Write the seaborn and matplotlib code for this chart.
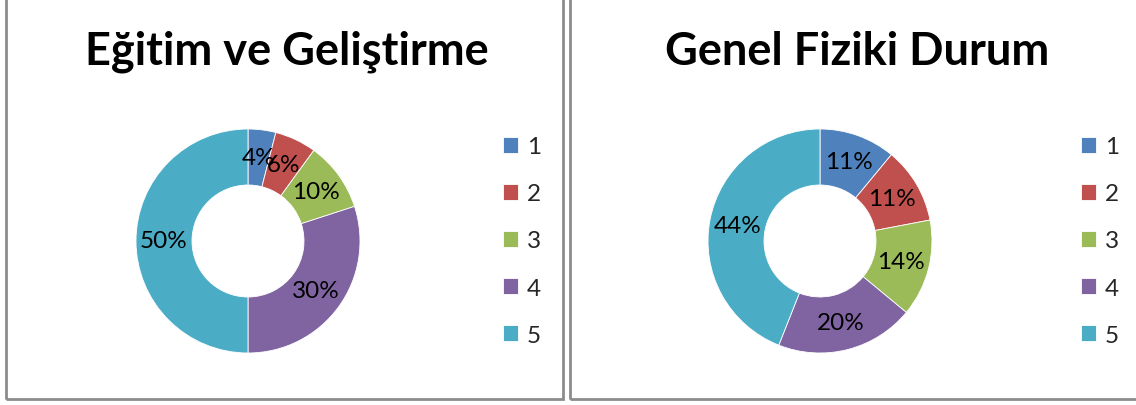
import seaborn as sns
import matplotlib.pyplot as plt
from matplotlib.patches import Rectangle

# data
categories = ['1', '2', '3', '4', '5']
egitim_values = [4, 6, 10, 30, 50]
fiziki_values = [11, 11, 14, 20, 44]
titles = ['Eğitim ve Geliştirme', 'Genel Fiziki Durum']

sns.set_theme(style="white")
plt.rcParams['font.family'] = ['Lato', 'DejaVu Sans']
colors = ['#4F81BD', '#C0504D', '#9BBB59', '#8064A2', '#4BACC6']

W, H = 1136, 406
fig = plt.figure(figsize=(W / 100, H / 100), dpi=100)

# panel borders
for x0, x1 in [(6, 563), (570, 1140)]:
    fig.patches.append(Rectangle((x0 / W, 6 / H), (x1 - x0) / W, 1.2,
                                 transform=fig.transFigure, fill=False,
                                 edgecolor='#8c8c8c', linewidth=2))

panels = [(248, 287, 503, egitim_values), (820, 857, 1081, fiziki_values)]
r = 112
for (cx, tx, lx, vals), title in zip(panels, titles):
    ax = fig.add_axes([(cx - r) / W, (H - 242 - r) / H, 2 * r / W, 2 * r / H])
    wedges, _, autotexts = ax.pie(vals, colors=colors, startangle=90, counterclock=False,
                                  autopct='%1.0f%%', pctdistance=0.75,
                                  wedgeprops=dict(width=0.5, edgecolor='white', linewidth=0.6),
                                  textprops=dict(fontsize=17.5, color='black'))
    ax.set_xlim(-1, 1)
    ax.set_ylim(-1, 1)
    fig.text(tx / W, 1 - 52 / H, title, ha='center', va='center',
             fontsize=32.5, fontweight='bold', color='black')
    fig.legend(wedges, categories, loc='center left',
               bbox_to_anchor=(lx / W, 1 - 242 / H), frameon=False,
               fontsize=17.5, labelspacing=1.07, handlelength=0.62, handleheight=0.62,
               handletextpad=0.35, borderpad=0, borderaxespad=0)

plt.savefig('out.png', dpi=100)
